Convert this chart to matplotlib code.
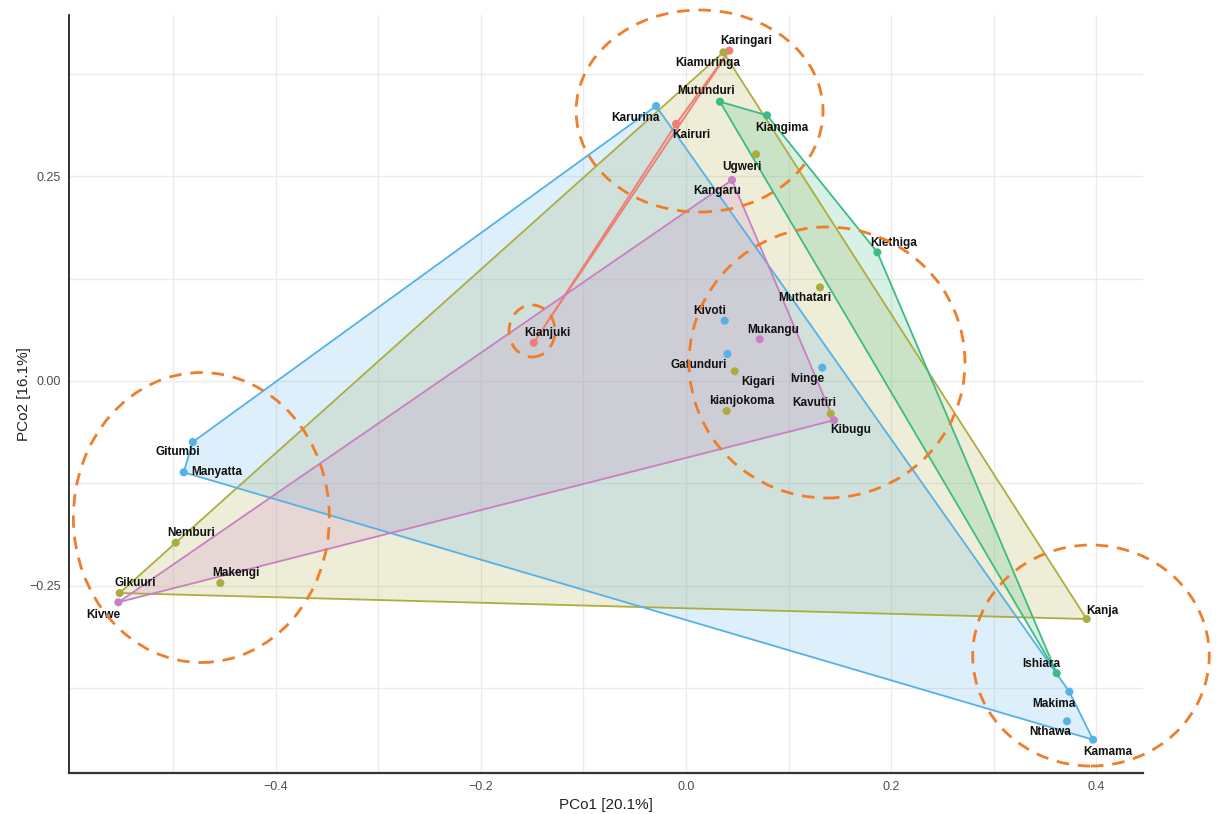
import numpy as np
import matplotlib
matplotlib.use("Agg")
import matplotlib.pyplot as plt
from matplotlib.patches import Polygon, Ellipse

plt.rcParams['font.family'] = ['Liberation Sans', 'DejaVu Sans']

# ---- PCoA scores per site, grouped by cluster ----
groups = ["A", "B", "C", "D", "E"]

sites_A = ["Karingari", "Kairuri", "Kianjuki"]
pco1_A = [0.0422, -0.0097, -0.1484]
pco2_A = [0.4038, 0.3142, 0.0468]

sites_B = ["Kiamuringa", "Ugweri", "Muthatari", "Kigari", "kianjokoma",
           "Kavutiri", "Kanja", "Gikuuri", "Nemburi", "Makengi"]
pco1_B = [0.0364, 0.0682, 0.1306, 0.0475, 0.0397, 0.1410, 0.3905, -0.5520, -0.4974, -0.4539]
pco2_B = [0.4018, 0.2771, 0.1145, 0.0119, -0.0367, -0.0400, -0.2910, -0.2592, -0.1977, -0.2469]

sites_C = ["Mutunduri", "Kiangima", "Kiethiga", "Ishiara"]
pco1_C = [0.0331, 0.0789, 0.1865, 0.3613]
pco2_C = [0.3414, 0.3248, 0.1573, -0.3573]

sites_D = ["Karurina", "Kivoti", "Gatunduri", "Ivinge", "Gitumbi", "Manyatta",
           "Makima", "Nthawa", "Kamama"]
pco1_D = [-0.0292, 0.0377, 0.0403, 0.1328, -0.4808, -0.4896, 0.3736, 0.3713, 0.3967]
pco2_D = [0.3362, 0.0737, 0.0330, 0.0163, -0.0746, -0.1116, -0.3798, -0.4160, -0.4385]

sites_E = ["Kangaru", "Mukangu", "Kibugu", "Kivwe"]
pco1_E = [0.0448, 0.0718, 0.1442, -0.5533]
pco2_E = [0.2457, 0.0510, -0.0480, -0.2705]

group_sites = [sites_A, sites_B, sites_C, sites_D, sites_E]
group_x = [pco1_A, pco1_B, pco1_C, pco1_D, pco1_E]
group_y = [pco2_A, pco2_B, pco2_C, pco2_D, pco2_E]
group_colors = ["#EE7F73", "#ADAD3F", "#3DBB84", "#56B1E6", "#C97FC4"]

xlabel = "PCo1 [20.1%]"
ylabel = "PCo2 [16.1%]"
xticks = [-0.4, -0.2, 0.0, 0.2, 0.4]
yticks = [-0.25, 0.0, 0.25]

# label offsets (points) relative to each site marker
label_offsets = {
    "Karingari": (12, 7), "Kiamuringa": (-11, -8), "Mutunduri": (-10, 8),
    "Kiangima": (11, -9), "Karurina": (-15, -9), "Kairuri": (11, -8),
    "Ugweri": (-10, -9), "Kangaru": (-11, -8), "Kiethiga": (12, 7),
    "Muthatari": (-11, -8), "Kivoti": (-11, 7), "Mukangu": (10, 7),
    "Gatunduri": (-21, -8), "Kigari": (17, -8), "Ivinge": (-11, -8),
    "kianjokoma": (11, 7), "Kavutiri": (-12, 8), "Kibugu": (12, -7),
    "Gitumbi": (-11, -7), "Manyatta": (24, 0), "Nemburi": (11, 7),
    "Makengi": (11, 7), "Gikuuri": (11, 7), "Kivwe": (-11, -9),
    "Kanja": (11, 6), "Ishiara": (-11, 7), "Makima": (-11, -9),
    "Nthawa": (-12, -8), "Kamama": (11, -9), "Kianjuki": (10, 7),
}

# highlighted regions: (centre x, centre y, width, height) in data units
highlight_regions = [
    (0.0132, 0.3300, 0.2407, 0.2470),
    (0.1374, 0.0226, 0.2690, 0.3313),
    (-0.4724, -0.1669, 0.2495, 0.3545),
    (0.3947, -0.3356, 0.2306, 0.2702),
    (-0.1501, 0.0611, 0.0448, 0.0636),
]


def convex_hull(pts):
    pts = sorted(map(tuple, pts))
    if len(pts) < 3:
        return np.array(pts)

    def cross(o, a, b):
        return (a[0] - o[0]) * (b[1] - o[1]) - (a[1] - o[1]) * (b[0] - o[0])

    lower, upper = [], []
    for p in pts:
        while len(lower) >= 2 and cross(lower[-2], lower[-1], p) <= 0:
            lower.pop()
        lower.append(p)
    for p in reversed(pts):
        while len(upper) >= 2 and cross(upper[-2], upper[-1], p) <= 0:
            upper.pop()
        upper.append(p)
    return np.array(lower[:-1] + upper[:-1])


fig = plt.figure(figsize=(12.22, 8.14), dpi=100)
ax = fig.add_axes([69 / 1222, 1 - 773 / 814, (1143 - 69) / 1222, (773 - 15) / 814])

for xs, ys, col in zip(group_x, group_y, group_colors):
    hull = convex_hull(np.column_stack([xs, ys]))
    ax.add_patch(Polygon(hull, closed=True, facecolor=col, alpha=0.2,
                         edgecolor="none", zorder=2))
    ax.add_patch(Polygon(hull, closed=True, facecolor="none",
                         edgecolor=col, linewidth=1.3, zorder=3))

for names, xs, ys, col in zip(group_sites, group_x, group_y, group_colors):
    ax.scatter(xs, ys, s=34, color=col, edgecolors="none", zorder=4)
    for n, x, y in zip(names, xs, ys):
        dx, dy = label_offsets[n]
        ax.annotate(n, (x, y), xytext=(dx, dy), textcoords="offset points",
                    ha="center", va="center", fontsize=8.5, fontweight="bold",
                    color="#111111", zorder=6)

for cx, cy, w, h in highlight_regions:
    ax.add_patch(Ellipse((cx, cy), w, h, facecolor="none", edgecolor="#F07D2A",
                         linewidth=2.0, linestyle=(0, (4.5, 3.2)),
                         clip_on=False, zorder=7))

ax.set_xlim(-0.6014, 0.4454)
ax.set_ylim(-0.4792, 0.4474)

ax.set_xticks(xticks)
ax.set_yticks(yticks)
ax.set_xticklabels([f"{t:.1f}".replace("-", "\u2212") for t in xticks])
ax.set_yticklabels([f"{t:.2f}".replace("-", "\u2212") for t in yticks])
ax.set_xticks([-0.5, -0.3, -0.1, 0.1, 0.3], minor=True)
ax.set_yticks([-0.375, -0.125, 0.125, 0.375], minor=True)
ax.grid(True, which="both", color="#EBEBEB", linewidth=1.0, zorder=0)
ax.set_axisbelow(True)
ax.tick_params(which="both", length=0, pad=6, labelsize=9, labelcolor="#4D4D4D")

for s in ["top", "right"]:
    ax.spines[s].set_visible(False)
ax.spines["left"].set_color("#111111")
ax.spines["left"].set_linewidth(1.2)
ax.spines["bottom"].set_color("#333333")
ax.spines["bottom"].set_linewidth(1.6)

ax.set_xlabel(xlabel, fontsize=11, color="#222222", labelpad=3)
ax.set_ylabel(ylabel, fontsize=11, color="#222222", labelpad=-1)

fig.savefig("out.png", dpi=100, facecolor="white")
